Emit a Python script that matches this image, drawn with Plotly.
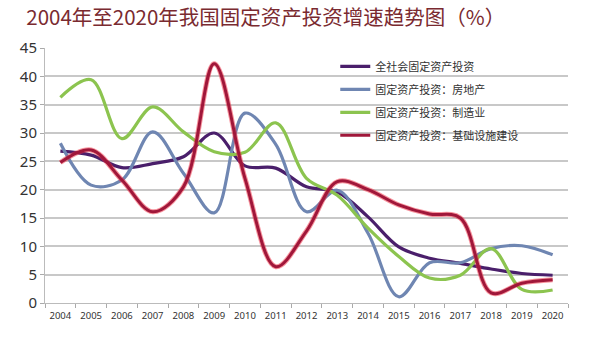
import plotly.graph_objects as go

years = [str(y) for y in range(2004, 2021)]
total = [26.8, 26.1, 23.9, 24.6, 25.8, 30.0, 24.2, 23.8, 20.5, 19.6, 15.2, 9.9, 7.9, 7.0, 6.0, 5.2, 4.9]
real_estate = [28.2, 20.8, 21.7, 30.2, 22.9, 15.9, 33.5, 28.0, 16.1, 19.9, 12.3, 1.1, 7.1, 7.1, 9.6, 10.1, 8.5]
manufacturing = [36.3, 39.4, 29.0, 34.6, 30.2, 26.7, 26.6, 31.8, 22.0, 19.0, 13.2, 8.2, 4.4, 4.9, 9.6, 2.4, 2.3]
infrastructure = [24.8, 27.0, 21.7, 16.1, 20.5, 42.2, 22.0, 6.4, 12.7, 21.4, 20.0, 17.3, 15.7, 15.0, 1.8, 3.5, 4.1]

names = ["全社会固定资产投资", "固定资产投资：房地产", "固定资产投资：制造业", "固定资产投资：基础设施建设"]
colors = ["#4a1f6b", "#6f86b2", "#8cc44f", "#a0173a"]

fig = go.Figure()
for i, (vals, name, col) in enumerate(zip([total, real_estate, manufacturing], names[:3], colors[:3])):
    fig.add_trace(go.Scatter(x=years, y=vals, name=name, mode="lines", legendgroup=f"g{i}",
                             line=dict(color=col, width=3.2, shape="spline", smoothing=1.0)))
# glow under infrastructure
fig.add_trace(go.Scatter(x=years, y=infrastructure, mode="lines", showlegend=False, hoverinfo="skip",
                         legendgroup="g3",
                         line=dict(color="rgba(240,40,60,0.5)", width=5, shape="spline", smoothing=1.0)))
fig.add_trace(go.Scatter(x=years, y=infrastructure, name=names[3], mode="lines", legendgroup="g3",
                         line=dict(color=colors[3], width=3, shape="spline", smoothing=1.0)))

# white panel behind legend (covers gridlines like the reference)
fig.add_shape(type="rect", xref="paper", yref="paper", x0=0.545, x1=0.98, y0=0.64, y1=0.975,
              fillcolor="white", line=dict(width=0), layer="between")

fig.update_layout(
    width=600, height=346,
    margin=dict(l=45, r=32, t=48, b=43),
    paper_bgcolor="white", plot_bgcolor="white",
    font=dict(family="Noto Sans CJK SC, Noto Sans, sans-serif", color="#333333"),
    title=dict(text="2004年至2020年我国固定资产投资增速趋势图（%）", x=0.443, xanchor="center",
               y=0.948, yanchor="middle",
               font=dict(size=20.5, color="#7a2a30", family="Noto Sans CJK SC, sans-serif")),
    showlegend=True,
    legend=dict(x=0.555, y=0.985, xanchor="left", yanchor="top", bgcolor="rgba(0,0,0,0)",
                font=dict(size=11, color="#333333"), tracegroupgap=4, itemwidth=30),
    xaxis=dict(type="category", range=[-0.5, 16.5], tickson="boundaries", ticks="outside",
               ticklen=4, tickcolor="#aaaaaa", showline=True, linecolor="#bbbbbb", linewidth=1,
               tickangle=0, showgrid=False, ticklabelstandoff=4,
               tickfont=dict(size=9.5, color="#333333", family="Noto Sans, sans-serif")),
    yaxis=dict(range=[0, 45], dtick=5, showgrid=True, gridcolor="#c8c8c8", gridwidth=1.5,
               showline=True, linecolor="#bbbbbb", ticks="outside", ticklen=4, tickcolor="#aaaaaa",
               zeroline=False, tickfont=dict(size=15, color="#333333", family="Noto Sans, sans-serif")),
)

fig.write_html("out.html")
